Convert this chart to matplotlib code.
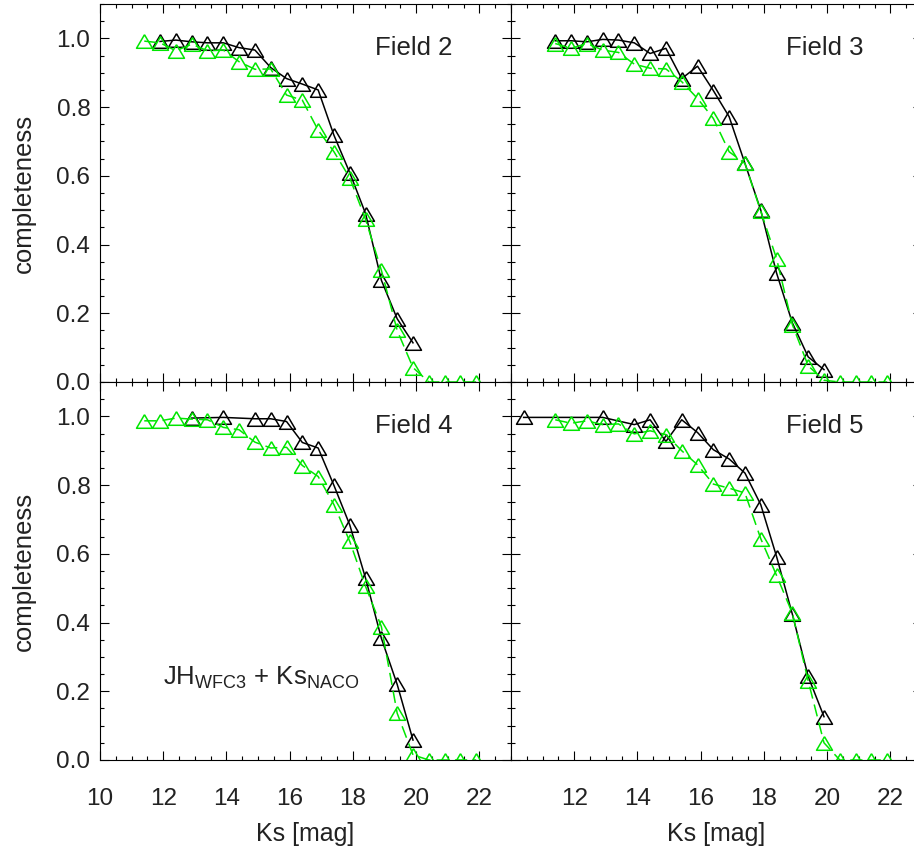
import numpy as np
import matplotlib
matplotlib.use("Agg")
import matplotlib.pyplot as plt
from matplotlib.ticker import MultipleLocator, FormatStrFormatter

plt.rcParams['font.family'] = ['Liberation Sans', 'DejaVu Sans']
plt.rcParams['mathtext.fontset'] = 'custom'
plt.rcParams['mathtext.rm'] = 'Liberation Sans'
plt.rcParams['mathtext.it'] = 'Liberation Sans:italic'

# magnitude bins
mag_green = [11.4, 11.9, 12.4, 12.9, 13.4, 13.9, 14.4, 14.9, 15.4, 15.9, 16.4,
             16.9, 17.4, 17.9, 18.4, 18.9, 19.4, 19.9, 20.4, 20.9, 21.4, 21.9]

# Field 2
f2_mag_black = [11.9, 12.4, 12.9, 13.4, 13.9, 14.4, 14.9, 15.4, 15.9, 16.4,
                16.9, 17.4, 17.9, 18.4, 18.9, 19.4, 19.9]
f2_black = [0.991, 0.995, 0.990, 0.987, 0.987, 0.973, 0.966, 0.915, 0.883, 0.867,
            0.850, 0.718, 0.609, 0.490, 0.296, 0.184, 0.114]
f2_green = [0.992, 0.987, 0.964, 0.983, 0.964, 0.966, 0.932, 0.910, 0.911, 0.835, 0.820,
            0.733, 0.670, 0.594, 0.473, 0.325, 0.150, 0.042, 0.0, 0.0, 0.0, 0.0]

# Field 3
f3_mag_black = [11.4, 11.9, 12.4, 12.9, 13.4, 13.9, 14.4, 14.9, 15.4, 15.9,
                16.4, 16.9, 17.4, 17.9, 18.4, 18.9, 19.4, 19.9]
f3_black = [0.993, 0.993, 0.990, 0.997, 0.995, 0.987, 0.956, 0.971, 0.883, 0.919,
            0.848, 0.772, 0.636, 0.500, 0.317, 0.172, 0.073, 0.036]
f3_green = [0.985, 0.971, 0.985, 0.966, 0.959, 0.925, 0.913, 0.911, 0.874, 0.825, 0.767,
            0.670, 0.636, 0.497, 0.359, 0.167, 0.047, 0.005, 0.0, 0.0, 0.0, 0.0]

# Field 4
f4_mag_black = [12.9, 13.9, 14.9, 15.4, 15.9, 16.4, 16.9, 17.4, 17.9, 18.4,
                18.9, 19.4, 19.9]
f4_black = [0.995, 0.997, 0.993, 0.993, 0.985, 0.924, 0.908, 0.799, 0.684, 0.529,
            0.354, 0.220, 0.058]
f4_green = [0.987, 0.987, 0.995, 0.992, 0.990, 0.968, 0.961, 0.925, 0.908, 0.910, 0.857,
            0.825, 0.743, 0.636, 0.505, 0.388, 0.136, 0.015, 0.0, 0.0, 0.0, 0.0]

# Field 5
f5_mag_black = [10.4, 12.9, 13.9, 14.4, 14.9, 15.4, 15.9, 16.4, 16.9, 17.4,
                17.9, 18.4, 18.9, 19.4, 19.9]
f5_black = [0.997, 0.997, 0.976, 0.990, 0.927, 0.990, 0.953, 0.903, 0.876, 0.835,
            0.743, 0.592, 0.424, 0.243, 0.126]
f5_green = [0.990, 0.980, 0.987, 0.976, 0.978, 0.949, 0.958, 0.947, 0.900, 0.859, 0.803,
            0.791, 0.777, 0.644, 0.537, 0.427, 0.230, 0.050, 0.0, 0.0, 0.0, 0.0]

fields = [
    ("Field 2", f2_mag_black, f2_black, f2_green),
    ("Field 3", f3_mag_black, f3_black, f3_green),
    ("Field 4", f4_mag_black, f4_black, f4_green),
    ("Field 5", f5_mag_black, f5_black, f5_green),
]

W, H = 914, 856
fig = plt.figure(figsize=(W / 100, H / 100), dpi=100)

# panel boxes in pixels (left, top); right column runs past the figure edge
pw, ph = 411, 378
boxes = [(100, 4), (511, 4), (100, 382), (511, 382)]

tri = [(0, 0.85), (-1, -0.85), (1, -0.85), (0, 0.85)]
txt_col = '#222222'
green = '#00e600'

for i, (name, mb, yb, yg) in enumerate(fields):
    x0, y0 = boxes[i]
    ax = fig.add_axes([x0 / W, 1 - (y0 + ph) / H, pw / W, ph / H])

    ax.plot(mb, yb, color='black', lw=1.1, marker=tri, ms=11.5,
            mfc='none', mec='black', mew=1.1)
    ax.plot(mag_green, yg, color=green, lw=1.1, ls=(0, (8, 4)), marker=tri, ms=11.5,
            mfc='none', mec=green, mew=1.1)

    ax.set_xlim(10, 23)
    ax.set_ylim(0, 1.1)
    ax.xaxis.set_major_locator(MultipleLocator(2))
    ax.xaxis.set_minor_locator(MultipleLocator(0.5))
    ax.yaxis.set_major_locator(MultipleLocator(0.2))
    ax.yaxis.set_minor_locator(MultipleLocator(0.05))
    ax.yaxis.set_major_formatter(FormatStrFormatter('%.1f'))
    ax.tick_params(which='both', direction='in', top=True, right=True,
                   colors='black', labelcolor=txt_col, labelsize=17.5, width=0.8)
    ax.tick_params(which='major', length=6.5)
    ax.tick_params(which='minor', length=3)
    ax.tick_params(axis='x', pad=20)
    ax.tick_params(axis='y', pad=7)
    for s in ax.spines.values():
        s.set_linewidth(0.8)

    ax.text(0.67, 0.865, name, transform=ax.transAxes, fontsize=18.5,
            color=txt_col, ha='left', va='baseline')

    row, col = divmod(i, 2)
    if row == 0:
        ax.tick_params(labelbottom=False)
    else:
        ax.set_xlabel('Ks [mag]', fontsize=18, color=txt_col, labelpad=9)
        if col == 1:
            ax.set_xticks([12, 14, 16, 18, 20, 22])
    if col == 1:
        ax.tick_params(labelleft=False)
    else:
        ax.set_ylabel('completeness', fontsize=18.5, color=txt_col, labelpad=15)

    if i == 2:
        ax.text(0.153, 0.198, r'JH$_{\mathrm{WFC3}}$ + Ks$_{\mathrm{NACO}}$',
                transform=ax.transAxes, fontsize=18.5, color=txt_col,
                ha='left', va='baseline')

fig.savefig('out.png', dpi=100)
